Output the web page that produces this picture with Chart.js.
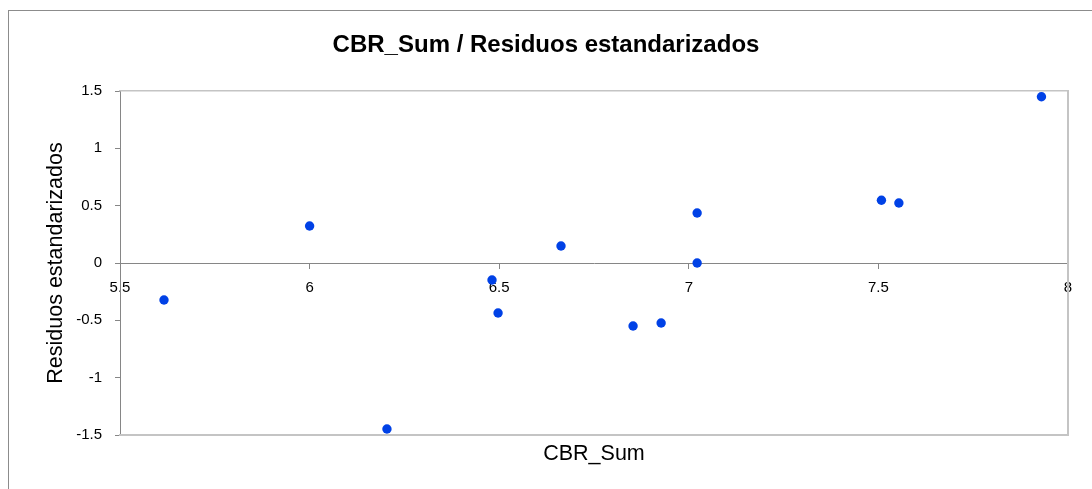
<!DOCTYPE html>
<html>
<head>
<meta charset="utf-8">
<script src="https://cdn.jsdelivr.net/npm/chart.js@4/dist/chart.umd.min.js"></script>
<style>
  body { margin: 0; background: #fff; overflow: hidden; }
  #frame { position: absolute; left: 8px; top: 10px; width: 2000px; height: 2000px; border: 1px solid #8c8c8c; }
  #myChart { position: absolute; left: 0; top: 0; }
</style>
</head>
<body>
<div id="frame"></div>
<canvas id="myChart" width="1092" height="489"></canvas>
<script>
    // CBR_Sum values and their standardized residuals
    var xValues = [5.616, 6.0, 6.204, 6.481, 6.497, 6.663, 6.853, 6.927, 7.022, 7.022, 7.508, 7.554, 7.930];
    var yValues = [-0.323, 0.323, -1.448, -0.148, -0.436, 0.148, -0.549, -0.523, 0.436, 0.0, 0.547, 0.523, 1.450];

    var xTicks = [5.5, 6, 6.5, 7, 7.5, 8];
    var yTicks = [-1.5, -1, -0.5, 0, 0.5, 1, 1.5];

    var points = [];
    for (var i = 0; i < xValues.length; i++) {
        points.push({ x: xValues[i], y: yValues[i] });
    }

    var axisGray = "#868686";
    var frameGray = "#c4c4c4";
    var tickFont = { family: "Liberation Sans", size: 15 };
    var titleFont = { family: "Liberation Sans", size: 21.5 };

    function setTicks(list) {
        return function (scale) {
            scale.ticks = list.map(function (v) { return { value: v }; });
        };
    }
    function plainLabel(v) {
        return String(v);
    }

    new Chart("myChart", {
      type: "scatter",
      data: {
        datasets: [{
          data: points,
          backgroundColor: "#0041e6",
          borderWidth: 0,
          pointRadius: 4.7,
          pointHoverRadius: 4.7
        }]
      },
      options: {
        responsive: false,
        animation: false,
        layout: { padding: 0 },
        plugins: {
          legend: { display: false },
          tooltip: { enabled: false },
          title: {
            display: true,
            text: "CBR_Sum / Residuos estandarizados",
            color: "#000",
            font: { family: "Liberation Sans", size: 24, weight: "bold" },
            padding: { top: 30.6, bottom: 31.6 }
          }
        },
        scales: {
          x: {
            type: "linear",
            position: { y: 0 },
            min: 5.5,
            max: 8,
            afterBuildTicks: setTicks(xTicks),
            afterFit: function (scale) { scale.height = 0; },
            ticks: { autoSkip: false, maxRotation: 0, color: "#000", font: tickFont, padding: 11, callback: plainLabel },
            grid: { display: true, drawOnChartArea: false, drawTicks: true, tickLength: 5, color: axisGray },
            border: { display: true, color: axisGray, width: 1 }
          },
          y: {
            type: "linear",
            position: "left",
            min: -1.5,
            max: 1.5,
            afterBuildTicks: setTicks(yTicks),
            afterFit: function (scale) { scale.width = 120; },
            ticks: { autoSkip: false, color: "#000", font: tickFont, padding: 13, callback: plainLabel },
            grid: { display: true, drawOnChartArea: false, drawTicks: true, tickLength: 5, color: axisGray },
            border: { display: true, color: axisGray, width: 1 },
            title: {
              display: true,
              text: "Residuos estandarizados",
              color: "#000",
              font: titleFont,
              padding: { top: 43, bottom: 0 }
            }
          },
          xBottom: {
            type: "linear",
            position: "bottom",
            min: 5.5,
            max: 8,
            afterFit: function (scale) { scale.height = 54; },
            ticks: { display: false },
            grid: { display: false },
            border: { display: true, color: frameGray, width: 2 },
            title: {
              display: true,
              text: "CBR_Sum",
              color: "#000",
              font: titleFont,
              padding: { top: 0, bottom: 22.5 }
            }
          },
          xTop: {
            type: "linear",
            position: "top",
            min: 5.5,
            max: 8,
            afterFit: function (scale) { scale.height = 0; },
            ticks: { display: false },
            grid: { display: false },
            border: { display: true, color: frameGray, width: 1.5 }
          },
          yRight: {
            type: "linear",
            position: "right",
            min: -1.5,
            max: 1.5,
            afterFit: function (scale) { scale.width = 24; },
            ticks: { display: false },
            grid: { display: false },
            border: { display: true, color: frameGray, width: 2 }
          }
        }
      }
    });
</script>
</body>
</html>
